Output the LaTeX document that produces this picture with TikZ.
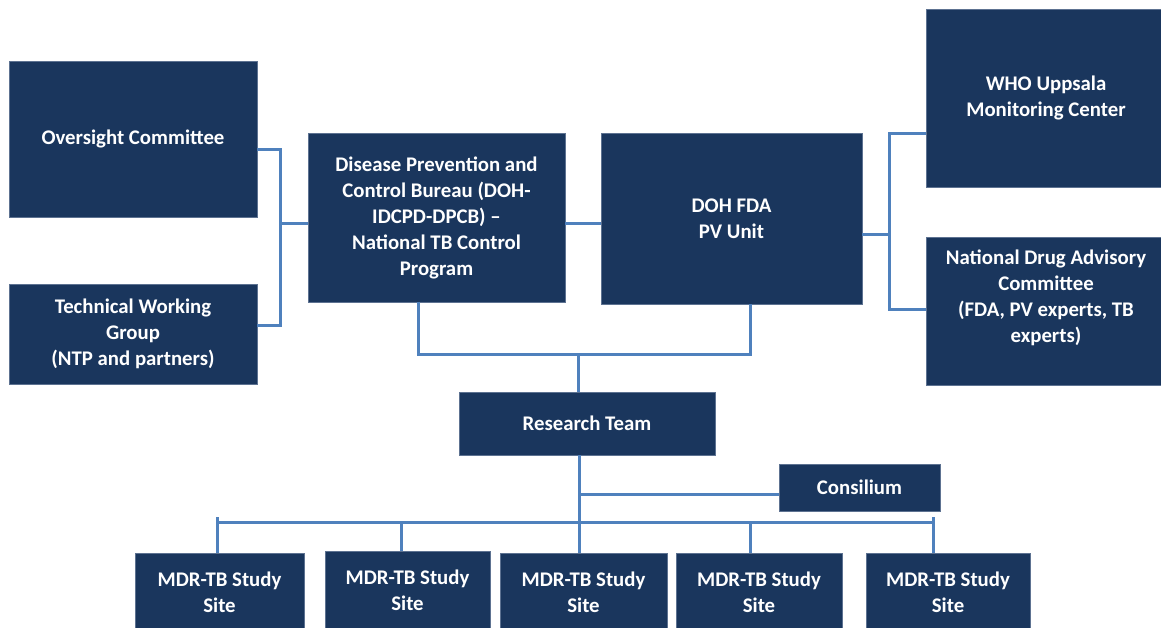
\documentclass[tikz,border=0pt]{standalone}
\usepackage{fontspec}
\setmainfont{Carlito}
\definecolor{navy}{HTML}{1A365D}
\definecolor{navyedge}{HTML}{5D7291}
\definecolor{linkblue}{HTML}{4F81BD}
\begin{document}
\begin{tikzpicture}[x=1pt,y=-1pt,
  box/.style={rectangle, fill=navy, draw=navyedge, line width=0.6pt,
    text=white, font=\bfseries\fontsize{20.8}{26}\selectfont,
    align=center, inner sep=0pt},
  boxtext/.style={text=white, font=\bfseries\fontsize{20.8}{26}\selectfont,
    align=center, inner sep=0pt},
  link/.style={draw=linkblue, line width=3pt}]
\useasboundingbox (0,0) rectangle (1161,627);
\clip (0,0) rectangle (1161,627);

% governance boxes, left
\node[box, minimum width=248pt, minimum height=156pt] (over) at (133,139) {Oversight Committee};
\node[box, minimum width=248pt, minimum height=100pt] (twg) at (133,334)
  {Technical Working\\Group\\(NTP and partners)};

% central bodies
\node[box, minimum width=257pt, minimum height=169pt] (dpcb) at (436.5,217.5)
  {Disease Prevention and\\Control Bureau (DOH-\\IDCPD-DPCB) --\\National TB Control\\Program};
\node[box, minimum width=261pt, minimum height=171pt] (fda) at (731.5,218.5)
  {DOH FDA\\PV Unit};

% external bodies, right
\node[box, minimum width=240pt, minimum height=178pt] (who) at (1046,98)
  {WHO Uppsala\\Monitoring Center};
\node[box, minimum width=240pt, minimum height=148pt] (ndac) at (1046,311) {};
\node[boxtext] (ndactext) at (1046,298)
  {National Drug Advisory\\Committee\\(FDA, PV experts, TB\\experts)};

% research level
\node[box, minimum width=256pt, minimum height=63pt] (rt) at (587,423.5) {Research Team};
\node[box, minimum width=161pt, minimum height=47pt] (cons) at (859.5,487.5) {Consilium};

% study sites
\node[box, minimum width=169pt, minimum height=78pt] (s1) at (219.5,592) {MDR-TB Study\\Site};
\node[box, minimum width=165pt, minimum height=78pt] (s2) at (407.5,590) {MDR-TB Study\\Site};
\node[box, minimum width=167pt, minimum height=78pt] (s3) at (583.5,592) {MDR-TB Study\\Site};
\node[box, minimum width=166pt, minimum height=78pt] (s4) at (759,592) {MDR-TB Study\\Site};
\node[box, minimum width=164pt, minimum height=78pt] (s5) at (948,592) {MDR-TB Study\\Site};

% junction points
\coordinate (jl) at (280,223);
\coordinate (jr) at (889,234);
\coordinate (jm) at (578,354);
\coordinate (b1) at (217,522);
\coordinate (b2) at (401,522);
\coordinate (b3) at (579,522);
\coordinate (b4) at (750,522);
\coordinate (b5) at (933,522);

% left bracket
\draw[link] ([yshift=-10pt]over.east) -| (jl) |- ([yshift=9pt]twg.east);
\draw[link] (jl) -- (jl -| dpcb.west);
% bureau to FDA
\draw[link] ([yshift=-6pt]dpcb.east) -- ([yshift=-6pt]dpcb.east -| fda.west);
% right bracket
\draw[link] ([yshift=-15.5pt]fda.east) -- (jr);
\draw[link] ([yshift=-35pt]who.west) -| (jr) |- ([yshift=2pt]ndac.west);
% both bodies down to the research team
\draw[link] ([xshift=-18.5pt]dpcb.south) |- (jm) -| ([xshift=18.5pt]fda.south);
\draw[link] (jm) -- (jm |- rt.north);
% research team to sites and Consilium
\draw[link] (rt.south -| b3) -- (b3);
\draw[link] ([yshift=-6.5pt]cons.west) -- ([yshift=-6.5pt]cons.west -| b3);
\draw[link] (b1) -- (b5);
\draw[link] ([yshift=5pt]b1) -- (b1 |- s1.north);
\draw[link] (b2) -- (b2 |- s2.north);
\draw[link] (b3) -- (b3 |- s3.north);
\draw[link] (b4) -- (b4 |- s4.north);
\draw[link] ([yshift=5pt]b5) -- (b5 |- s5.north);
\end{tikzpicture}
\end{document}
